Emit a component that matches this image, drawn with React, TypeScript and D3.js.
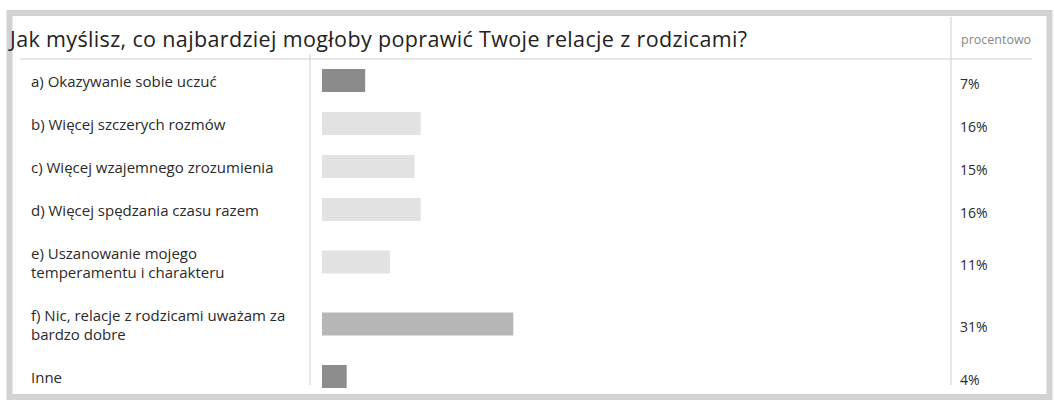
import React from "react";
import * as d3 from "d3";

const title = "Jak myślisz, co najbardziej mogłoby poprawić Twoje relacje z  rodzicami?";
const columnHeader = "procentowo";
const categories = [
  "a) Okazywanie sobie uczuć",
  "b) Więcej szczerych rozmów",
  "c) Więcej wzajemnego zrozumienia",
  "d) Więcej spędzania czasu razem",
  "e) Uszanowanie mojego\ntemperamentu i charakteru",
  "f) Nic, relacje z rodzicami uważam za\nbardzo dobre",
  "Inne",
];
const values = [7, 16, 15, 16, 11, 31, 4];
const barColors = ["#8b8b8b", "#e2e2e2", "#e2e2e2", "#e2e2e2", "#e2e2e2", "#b6b6b6", "#8d8d8d"];

const W = 1054;
const H = 412;
const FONT = "'Open Sans', Lato, sans-serif";

export default function App() {
  const headerLineY = 59;
  const singleH = 43;
  const doubleH = 62;
  const lines = categories.map((c) => c.split("\n"));
  const heights = lines.map((l) => (l.length > 1 ? doubleH : singleH));
  const tops: number[] = [];
  let acc = headerLineY;
  heights.forEach((h) => {
    tops.push(acc);
    acc += h;
  });
  const centers = tops.map((t, i) => t + heights[i] / 2);

  const x = d3.scaleLinear().domain([0, 100]).range([322, 939]);
  const barH = 23;
  const leftDiv = 310;
  const rightDiv = 951;

  return (
    <svg
      width={W}
      height={H}
      style={{ position: "absolute", left: 0, top: 0, background: "#ffffff" }}
      fontFamily={FONT}
    >
      <rect x={0} y={0} width={W} height={H} fill="#ffffff" />
      {/* outer frame */}
      <rect x={9.5} y={13} width={1040} height={384} fill="none" stroke="#d2d2d2" strokeWidth={6} />
      {/* header lines */}
      <line x1={20} x2={1032} y1={headerLineY} y2={headerLineY} stroke="#cfcfcf" strokeWidth={1} />
      <line x1={leftDiv} x2={leftDiv} y1={54} y2={385} stroke="#cfcfcf" strokeWidth={1} />
      <line x1={rightDiv} x2={rightDiv} y1={17} y2={385} stroke="#cfcfcf" strokeWidth={1} />

      <text x={10} y={47} fontSize={21.5} fill="#222222" textLength={737} lengthAdjust="spacing">
        {title}
      </text>
      <text x={961} y={44} fontSize={12.5} fill="#888888">
        {columnHeader}
      </text>

      {categories.map((c, i) => {
        const ls = lines[i];
        const lh = 19;
        const startY = centers[i] - ((ls.length - 1) * lh) / 2 + 6;
        return (
          <g key={c}>
            <text x={31} fontSize={15} fill="#2a2a2a">
              {ls.map((l, j) => (
                <tspan key={j} x={31} y={startY + j * lh}>
                  {l}
                </tspan>
              ))}
            </text>
            <rect
              x={x(0)}
              y={centers[i] - barH / 2}
              width={x(values[i]) - x(0)}
              height={barH}
              fill={barColors[i]}
            />
            <text x={960} y={centers[i] + 8} fontSize={14} fill="#2a2a2a">
              {`${values[i]}%`}
            </text>
          </g>
        );
      })}
    </svg>
  );
}
